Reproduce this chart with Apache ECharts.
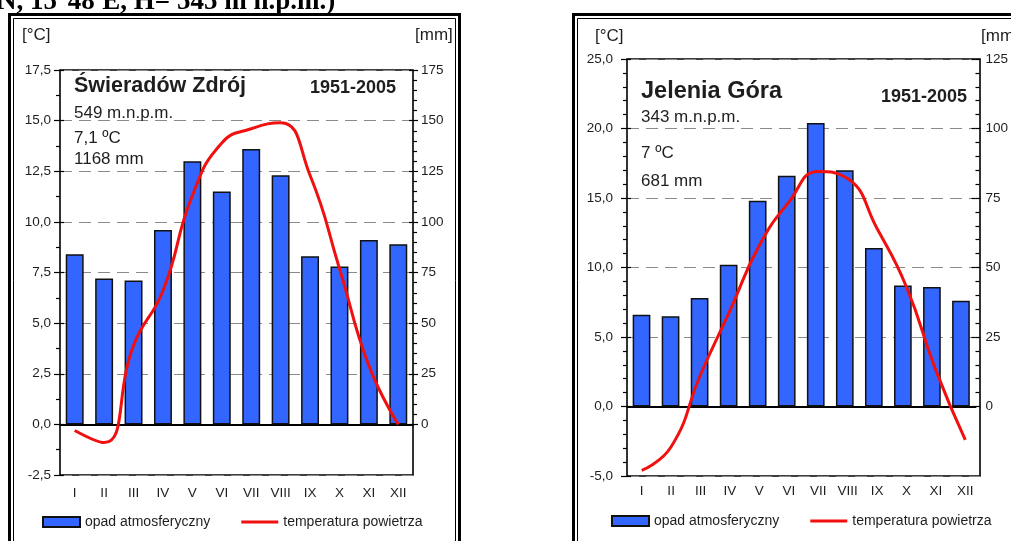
<!DOCTYPE html>
<html>
<head>
<meta charset="utf-8">
<script src="https://cdn.jsdelivr.net/npm/echarts@6/dist/echarts.min.js"></script>
<style>
html,body{margin:0;padding:0;background:#fff;}
#c{width:1011px;height:541px;}
</style>
</head>
<body>
<div id="c"></div>
<script>
// ---- data ----
const months = ['I','II','III','IV','V','VI','VII','VIII','IX','X','XI','XII'];

// Świeradów Zdrój 1951-2005
const swPrecip = [84, 72, 71, 96, 130, 115, 136, 123, 83, 78, 91, 89];          // mm
const swTemp   = [-0.3, -0.9, 3.9, 6.6, 11.3, 13.9, 14.6, 14.9, 12.3, 7.7, 2.9, 0.0]; // °C
const swTempTicks   = [-2.5, 0, 2.5, 5, 7.5, 10, 12.5, 15, 17.5];
const swPrecipTicks = [0, 25, 50, 75, 100, 125, 150, 175];

// Jelenia Góra 1951-2005
const jgPrecip = [33, 32.5, 39, 51, 74, 83, 102, 85, 57, 43.5, 43, 38];
const jgTemp   = [-4.6, -2.9, 2.3, 6.9, 11.6, 14.7, 16.9, 16.4, 12.8, 8.6, 2.6, -2.4];
const jgTempTicks   = [-5, 0, 5, 10, 15, 20, 25];
const jgPrecipTicks = [0, 25, 50, 75, 100, 125];

const seriesNames = ['opad atmosferyczny', 'temperatura powietrza'];

// ---- styles ----
const FONT = 'Arial, "Liberation Sans", sans-serif';
const BAR_COLOR = '#3366ff';
const LINE_COLOR = '#f01010';
const TXT = '#1e1e1e';

const option = {
  animation: false,
  backgroundColor: '#ffffff',
  grid: [], xAxis: [], yAxis: [], series: [], legend: [], graphic: []
};

function fmtT(v){ return v.toFixed(1).replace('.', ','); }

function addPanel(p) {
  const tMin = p.tTicks[0], tMax = p.tTicks[p.tTicks.length - 1], tInt = p.tTicks[1] - p.tTicks[0];
  const mMax = p.mTicks[p.mTicks.length - 1], mInt = p.mTicks[1] - p.mTicks[0];
  const zeroY = p.top + p.height * tMax / (tMax - tMin);

  const gA = option.grid.length;
  option.grid.push({left: p.left, top: p.top, width: p.width, height: p.height,
    show: true, borderColor: '#000', borderWidth: 1.6, backgroundColor: 'rgba(0,0,0,0)'});
  const gB = gA + 1;
  option.grid.push({left: p.left, top: p.top, width: p.width, height: zeroY - p.top, show: false});

  const xA = option.xAxis.length;
  option.xAxis.push({gridIndex: gA, type: 'category', data: months, boundaryGap: true,
    axisLine: {show: false}, axisTick: {show: false}, splitLine: {show: false},
    axisLabel: {interval: 0, margin: p.xMargin, fontSize: 13.5, color: TXT, fontFamily: FONT}});
  const xB = xA + 1;
  option.xAxis.push({gridIndex: gB, type: 'category', data: months, boundaryGap: true,
    axisLine: {show: true, onZero: false, lineStyle: {color: '#000', width: 2}},
    axisTick: {show: false}, axisLabel: {show: false}, splitLine: {show: false}});

  const yT = option.yAxis.length;
  option.yAxis.push({gridIndex: gA, type: 'value', position: 'left', min: tMin, max: tMax, interval: tInt,
    axisLine: {show: false},
    axisTick: {show: true, length: 6, lineStyle: {color: '#000', width: 1.2}},
    minorTick: {show: true, splitNumber: p.tMinor, length: 4, lineStyle: {color: '#000', width: 1.2}},
    axisLabel: {margin: p.tMargin, fontSize: 13.5, color: TXT, fontFamily: FONT, formatter: fmtT},
    splitLine: {show: true, lineStyle: {color: '#8a8a8a', width: 1, type: [12, 7]}},
    minorSplitLine: {show: false}});
  option.yAxis.push({gridIndex: gA, type: 'value', position: 'left', min: tMin, max: tMax, interval: tInt,
    axisLine: {show: false},
    axisTick: {show: true, inside: true, length: 4, lineStyle: {color: '#000', width: 1.2}},
    axisLabel: {show: false}, splitLine: {show: false}});
  const yM = yT + 2;
  option.yAxis.push({gridIndex: gB, type: 'value', position: 'right', min: 0, max: mMax, interval: mInt,
    axisLine: {show: false},
    axisTick: {show: true, length: 5, lineStyle: {color: '#000', width: 1.2}},
    minorTick: {show: true, splitNumber: 5, length: 4, lineStyle: {color: '#000', width: 1.2}},
    axisLabel: {margin: p.mMargin, fontSize: 13.5, color: TXT, fontFamily: FONT},
    splitLine: {show: false}});
  option.yAxis.push({gridIndex: gB, type: 'value', position: 'right', min: 0, max: mMax, interval: mInt,
    axisLine: {show: false},
    axisTick: {show: true, inside: true, length: 4, lineStyle: {color: '#000', width: 1.2}},
    axisLabel: {show: false}, splitLine: {show: false}});

  option.series.push({name: seriesNames[0], type: 'bar', xAxisIndex: xB, yAxisIndex: yM,
    data: p.precip, barWidth: '61%', z: 2,
    itemStyle: {color: BAR_COLOR, borderColor: '#111', borderWidth: 1.5}});
  option.series.push({name: seriesNames[1], type: 'line', xAxisIndex: xA, yAxisIndex: yT,
    data: p.temp, smooth: 0.5, symbol: 'none', symbolKeepAspect: true, z: 5,
    lineStyle: {color: LINE_COLOR, width: 3}, itemStyle: {color: LINE_COLOR}});

  option.legend.push({left: p.legendLeft, top: p.legendTop, itemWidth: 37, itemHeight: 10, itemGap: 31,
    selectedMode: false, padding: 0,
    textStyle: {fontSize: 14, color: TXT, fontFamily: FONT},
    data: [{name: seriesNames[0], icon: 'rect'},
           {name: seriesNames[1], icon: 'path://M0,0 L40,0 L40,3.2 L0,3.2 Z',
            itemStyle: {color: LINE_COLOR, borderWidth: 0}}]});
}

addPanel({left: 60, top: 70, width: 353, height: 405, tTicks: swTempTicks, mTicks: swPrecipTicks,
  tMinor: 2, tMargin: 9, mMargin: 8, xMargin: 11, precip: swPrecip, temp: swTemp,
  legendLeft: 42, legendTop: 515});
addPanel({left: 627, top: 59, width: 353, height: 417, tTicks: jgTempTicks, mTicks: jgPrecipTicks,
  tMinor: 5, tMargin: 14, mMargin: 10, xMargin: 8, precip: jgPrecip, temp: jgTemp,
  legendLeft: 611, legendTop: 514});

// ---- frames and annotations ----
function rect(x, y, w, h, lw) {
  return {type: 'rect', silent: true, z: 50, shape: {x: x, y: y, width: w, height: h},
    style: {fill: 'none', stroke: '#000', lineWidth: lw}};
}
function txt(x, y, s, font, align) {
  return {type: 'text', silent: true, z: 60, x: x, y: y,
    style: {text: s, font: font, fill: TXT, align: align || 'left', verticalAlign: 'middle'}};
}
const F = (w, s) => w + ' ' + s + 'px Arial, "Liberation Sans", sans-serif';

option.graphic = [
  {type: 'text', silent: true, z: 60, x: -3, y: 16,
   style: {text: "N, 15°48'E, H= 545 m n.p.m.)", font: 'bold 27px "Liberation Serif", "Times New Roman", serif',
           fill: '#000', align: 'left', verticalAlign: 'bottom'}},
  rect(9.5, 14.5, 450, 560, 3), rect(13.5, 18.5, 442, 560, 1),
  rect(573.5, 14.5, 450, 560, 3), rect(577.5, 18.5, 442, 560, 1),
  // Świeradów Zdrój
  txt(22, 35, '[°C]', F('normal', 17)),
  txt(415, 35, '[mm]', F('normal', 17)),
  txt(74, 86, 'Świeradów Zdrój', F('bold', 21.5)),
  txt(310, 88, '1951-2005', F('bold', 18)),
  txt(74, 113, '549 m.n.p.m.', F('normal', 17)),
  txt(74, 138, '7,1 ºC', F('normal', 17)),
  txt(74, 159, '1168 mm', F('normal', 17)),
  // Jelenia Góra
  txt(595, 36, '[°C]', F('normal', 17)),
  txt(981, 36, '[mm]', F('normal', 17)),
  txt(641, 92, 'Jelenia Góra', F('bold', 23.5)),
  txt(881, 97, '1951-2005', F('bold', 18)),
  txt(641, 117, '343 m.n.p.m.', F('normal', 17)),
  txt(641, 153, '7 ºC', F('normal', 17)),
  txt(641, 181, '681 mm', F('normal', 17))
];

const chart = echarts.init(document.getElementById('c'), null, {renderer: 'canvas'});
chart.setOption(option);
</script>
</body>
</html>
